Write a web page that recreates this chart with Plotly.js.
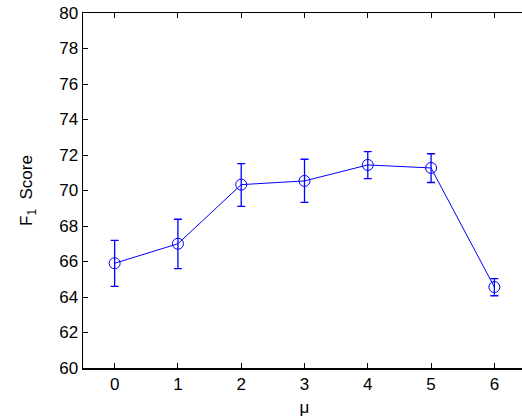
<!DOCTYPE html>
<html>
<head>
<meta charset="utf-8">
<script src="https://cdn.plot.ly/plotly-3.0.1.min.js"></script>
<style>
html,body{margin:0;padding:0;overflow:hidden;background:#fff;width:522px;height:419px;}
#chart{width:540px;height:426px;}
</style>
</head>
<body>
<div id="chart"></div>
<script>
const mu = [0, 1, 2, 3, 4, 5, 6];
const f1 = [65.9, 67.0, 70.33, 70.54, 71.44, 71.27, 64.56];
const errPlus = [1.29, 1.38, 1.18, 1.22, 0.75, 0.8, 0.47];
const errMinus = [1.3, 1.4, 1.22, 1.21, 0.77, 0.82, 0.49];
const xTicks = [0, 1, 2, 3, 4, 5, 6];
const yTicks = [60, 62, 64, 66, 68, 70, 72, 74, 76, 78, 80];

const trace = {
  x: mu, y: f1, type: 'scatter', mode: 'lines+markers',
  line: {color: '#0000ff', width: 1},
  marker: {symbol: 'circle-open', size: 11, color: '#0000ff', line: {width: 1, color: '#0000ff'}},
  error_y: {type: 'data', symmetric: false, array: errPlus, arrayminus: errMinus,
            color: '#0000ff', thickness: 1.3, width: 4},
  showlegend: false
};

const fam = 'Liberation Sans, Arial, sans-serif';
const font = {family: fam, size: 17, color: '#000'};
const layout = {
  width: 540, height: 426,
  margin: {l: 83, r: 14, t: 13, b: 58},
  paper_bgcolor: '#fff', plot_bgcolor: '#fff',
  font: font,
  xaxis: {
    range: [-0.5, 6.5], tickvals: xTicks, ticktext: xTicks.map(String),
    showgrid: false, zeroline: false, showline: true, linecolor: '#000', linewidth: 1.5,
    mirror: 'ticks', ticks: 'inside', ticklen: 5, tickcolor: '#000', tickwidth: 1,
    tickfont: font,
    title: {text: 'μ', font: {family: fam, size: 17, color: '#000'}, standoff: 8}
  },
  yaxis: {
    range: [60, 80], tickvals: yTicks, ticktext: yTicks.map(String),
    showgrid: false, zeroline: false, showline: true, linecolor: '#000', linewidth: 1.5,
    mirror: false, ticks: 'inside', ticklen: 5, tickcolor: '#000', tickwidth: 1,
    tickfont: font,
    title: {text: 'F<sub>1</sub>  Score', font: {family: fam, size: 17, color: '#000'}, standoff: 22}
  }
};

Plotly.newPlot('chart', [trace], layout, {staticPlot: true, displayModeBar: false});
</script>
</body>
</html>
